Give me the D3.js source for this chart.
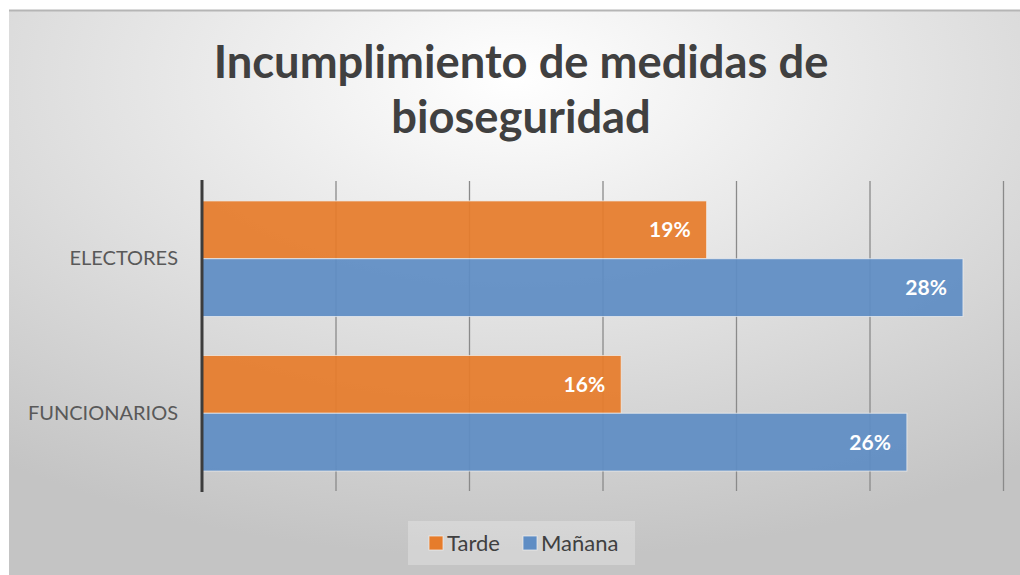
<!DOCTYPE html>
<html>
<head>
<meta charset="utf-8">
<script src="https://cdn.jsdelivr.net/npm/d3@7"></script>
<style>
  html, body { margin: 0; padding: 0; background: #ffffff; }
  svg { display: block; font-family: Lato, "Open Sans", sans-serif; }
</style>
</head>
<body>
<div id="chart"></div>
<script>
// data
var categories = ["ELECTORES", "FUNCIONARIOS"];
var seriesNames = ["Tarde", "Mañana"];
var tarde = [0.189, 0.157];
var manana = [0.285, 0.264];
var xTicks = [0, 0.05, 0.10, 0.15, 0.20, 0.25, 0.30];
var titleLines = ["Incumplimiento de medidas de", "bioseguridad"];

var width = 1020, height = 575;
var colors = { "Tarde": "#e67c2b", "Mañana": "#5f8dc4" };

var svg = d3.select("#chart").append("svg")
	.attr("width", width)
	.attr("height", height);

var defs = svg.append("defs");
var grad = defs.append("radialGradient")
	.attr("id", "bg")
	.attr("cx", "50%").attr("cy", "12%")
	.attr("r", "85%")
	.attr("fx", "50%").attr("fy", "12%");
grad.append("stop").attr("offset", "0%").attr("stop-color", "#ffffff");
grad.append("stop").attr("offset", "100%").attr("stop-color", "#c4c4c4");

// chart area
svg.append("rect")
	.attr("x", 9).attr("y", 10)
	.attr("width", width - 9).attr("height", height - 10)
	.attr("fill", "url(#bg)");
svg.append("line")
	.attr("x1", 9).attr("x2", width)
	.attr("y1", 10.5).attr("y2", 10.5)
	.attr("stroke", "#b5b5b5").attr("stroke-width", 2);

// title
var title = svg.append("text")
	.attr("text-anchor", "middle")
	.attr("fill", "#404040")
	.attr("font-weight", "bold")
	.attr("font-size", 44);
title.selectAll("tspan")
	.data(titleLines)
	.enter().append("tspan")
	.attr("x", 521)
	.attr("y", function(d, i) { return 78 + i * 55; })
	.text(function(d) { return d; });

// fit the first line to the width seen in the reference
var w0 = title.select("tspan").node().getComputedTextLength();
title.attr("font-size", 44 * 615 / w0);

// scales
var x = d3.scaleLinear()
	.domain([0, 0.30])
	.range([202, 1003]);

var y = d3.scaleBand()
	.domain(categories)
	.range([181, 491])
	.paddingInner(0.252)
	.paddingOuter(0.129);

var ySub = d3.scaleBand()
	.domain(seriesNames)
	.range([0, y.bandwidth()]);

// gridlines
var grid = svg.append("g")
	.attr("transform", "translate(0,181)")
	.call(d3.axisBottom(x)
		.tickValues(xTicks.slice(1))
		.tickSize(310)
		.tickFormat(""));
grid.select(".domain").remove();
grid.selectAll(".tick line")
	.attr("stroke", "#8a8a8a")
	.attr("stroke-width", 1.3);

// bars
var rows = categories.map(function(c, i) {
	return [
		{ cat: c, series: "Tarde", value: tarde[i] },
		{ cat: c, series: "Mañana", value: manana[i] }
	];
});

var groups = svg.selectAll("g.cat")
	.data(rows)
	.enter().append("g")
	.attr("class", "cat")
	.attr("transform", function(d) { return "translate(0," + y(d[0].cat) + ")"; });

groups.selectAll("rect")
	.data(function(d) { return d; })
	.enter().append("rect")
	.attr("x", x(0))
	.attr("y", function(d) { return ySub(d.series); })
	.attr("width", function(d) { return x(d.value) - x(0); })
	.attr("height", ySub.bandwidth())
	.attr("fill", function(d) { return colors[d.series]; })
	.attr("fill-opacity", 0.93)
	.attr("stroke", "#f2f2f2")
	.attr("stroke-opacity", 0.7)
	.attr("stroke-width", 1);

groups.selectAll("text.lbl")
	.data(function(d) { return d; })
	.enter().append("text")
	.attr("class", "lbl")
	.attr("x", function(d) { return x(d.value) - 16; })
	.attr("y", function(d) { return ySub(d.series) + ySub.bandwidth() / 2; })
	.attr("dy", "0.36em")
	.attr("text-anchor", "end")
	.attr("fill", "#ffffff")
	.attr("font-weight", "bold")
	.attr("font-size", 21)
	.text(function(d) { return d3.format(".0%")(d.value); });

// category axis
var yAxis = svg.append("g")
	.attr("transform", "translate(202,0)")
	.call(d3.axisLeft(y).tickSize(0).tickPadding(24));
yAxis.select(".domain")
	.attr("stroke", "#3c3c3c")
	.attr("stroke-width", 3)
	.attr("d", "M0,180V492");
yAxis.selectAll(".tick text")
	.attr("fill", "#595959")
	.attr("font-size", 20)
	.attr("font-family", "Lato, 'Open Sans', sans-serif");

// legend
var legend = svg.append("g");
legend.append("rect")
	.attr("x", 408).attr("y", 521)
	.attr("width", 227).attr("height", 44)
	.attr("fill", "#ffffff").attr("fill-opacity", 0.25);

var legendX = [429, 523];
var items = legend.selectAll("g.item")
	.data(seriesNames)
	.enter().append("g")
	.attr("class", "item")
	.attr("transform", function(d, i) { return "translate(" + legendX[i] + ",536)"; });
items.append("rect")
	.attr("width", 14).attr("height", 14)
	.attr("fill", function(d) { return colors[d]; })
	.attr("stroke", "#f2f2f2").attr("stroke-opacity", 0.7);
items.append("text")
	.attr("x", 18).attr("y", 7)
	.attr("dy", "0.36em")
	.attr("fill", "#404040")
	.attr("font-size", 22)
	.text(function(d) { return d; });
</script>
</body>
</html>
